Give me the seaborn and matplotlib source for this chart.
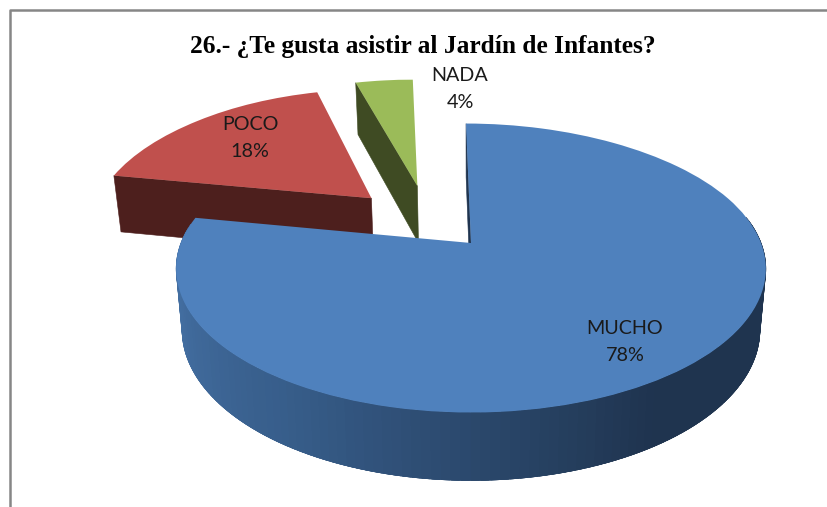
"""Survey question 26 shown as a tilted, exploded pie"""

import matplotlib

matplotlib.use("Agg")
import matplotlib.pyplot as plt
import numpy as np
import seaborn as sns
from matplotlib.transforms import Transform


TITLE = "26.- ¿Te gusta asistir al Jardín de Infantes?"
LABELS = ["MUCHO", "POCO", "NADA"]
VALUES = [78, 18, 4]

TOP_COLORS = ["#4F81BD", "#C0504D", "#9BBB59"]
WALL_COLORS = ["#1F344F", "#4D1F1D", "#3F4B23"]
BLUE_WALL_RAMP = ["#4A78AE", "#375D8A", "#1F344F", "#1F344F"]

# Layout of the projected pie, in pixels of the figure
APEX_X, APEX_Y = 471, 243
RADIUS_X, RADIUS_Y = 290, 139
TILT = 0.18
EXPLODE = [0, 0.5, 0.485]
GREEN_SHIFT_DEG = 17


def project(u, v, lower=False):
    """Project pie coordinates on the figure, with the depth if lower is True"""
    u, v = np.asarray(u, dtype=float), np.asarray(v, dtype=float)
    scale = 1 / (1 + TILT * v)
    # The far side of the pie leans a little to the upper left
    lean = np.clip(v - 0.3, 0, None) ** 2 * scale
    x = APEX_X + RADIUS_X * u * scale - 12 * lean
    y = APEX_Y - RADIUS_Y * v * scale - 4 * lean
    if lower:
        x = x + (APEX_X - x) * 0.02
        y = y + 21.6 + 38 * scale
    return x, y


class PieProjection(Transform):
    """Lets the wedges drawn by ax.pie follow the perspective of the chart"""

    input_dims = output_dims = 2
    is_separable = False
    has_inverse = False

    def transform_non_affine(self, values):
        x, y = project(values[:, 0], values[:, 1])
        return np.column_stack([x, y])


def fill_side(ax, u, v, color, zorder):
    """Fill the side face hanging under the given rim of a wedge"""
    xt, yt = project(u, v)
    xb, yb = project(u, v, lower=True)
    ax.fill(
        np.r_[xt, xb[::-1]],
        np.r_[yt, yb[::-1]],
        color=color,
        lw=0.4,
        zorder=zorder,
    )


def outer_wall(ax, wedge, start, end, color, zorder):
    """Outer wall of a wedge between two angles, in degrees"""
    theta = np.radians(np.linspace(start, end, 12))
    u = wedge.center[0] + np.cos(theta)
    v = wedge.center[1] + np.sin(theta)
    fill_side(ax, u, v, color, zorder)


def radial_face(ax, wedge, angle, color, zorder):
    """Cut face of a wedge, from its apex to the rim at the given angle"""
    theta = np.radians(angle)
    u = wedge.center[0] + np.array([0, np.cos(theta)])
    v = wedge.center[1] + np.array([0, np.sin(theta)])
    fill_side(ax, u, v, color, zorder)


sns.set_theme(style="white")
plt.rcParams["font.family"] = ["Lato", "DejaVu Sans"]

fig = plt.figure(figsize=(8.27, 5.07), dpi=100, facecolor="white")
ax = fig.add_axes([0, 0, 1, 1])

wedges, _ = ax.pie(
    VALUES,
    colors=TOP_COLORS,
    startangle=90,
    counterclock=False,
    explode=EXPLODE,
)
mucho, poco, nada = wedges

# The small slice sits further to the left than its own bisector
shift = np.radians(GREEN_SHIFT_DEG)
cx, cy = nada.center
nada.set_center(
    (cx * np.cos(shift) - cy * np.sin(shift), cx * np.sin(shift) + cy * np.cos(shift))
)

projection = PieProjection() + ax.transData
for wedge, zorder in zip(wedges, [8, 3, 5]):
    wedge.set_transform(projection)
    wedge.set_zorder(zorder)
    wedge.set_edgecolor("none")

# Side faces, back to front
radial_face(ax, poco, poco.theta2, WALL_COLORS[1], 2)
radial_face(ax, nada, nada.theta2, WALL_COLORS[2], 4)
radial_face(ax, mucho, mucho.theta2, WALL_COLORS[0], 6)

# Blue rim with a left to right shading, every strip overlaps the next one
rim_edges = np.linspace(172, 368, 121)
ramp = sns.blend_palette(BLUE_WALL_RAMP, n_colors=len(rim_edges) - 1)
for start, end, color in zip(rim_edges[:-1], rim_edges[1:], ramp):
    outer_wall(ax, mucho, start, end + 3, color, 7)

for label, value, (x, y) in zip(LABELS, VALUES, [(625, 342), (250, 138), (460, 89)]):
    ax.text(
        x,
        y,
        f"{label}\n{value}%",
        ha="center",
        va="center",
        fontsize=14.2,
        color="#1a1a1a",
        linespacing=1.72,
        zorder=10,
    )

ax.text(
    422.5,
    46,
    TITLE,
    ha="center",
    va="center",
    family="Liberation Serif",
    fontweight="bold",
    fontsize=18.3,
    color="black",
    zorder=10,
)

# Chart frame, cut by the edges of the picture
ax.plot([10, 10, 900], [900, 10, 10], color="#868686", lw=1.8, zorder=1)

ax.set(xlim=(0, 827), ylim=(507, 0), aspect="auto")
ax.set_axis_off()
fig.savefig("out.png", dpi=100, facecolor="white")
